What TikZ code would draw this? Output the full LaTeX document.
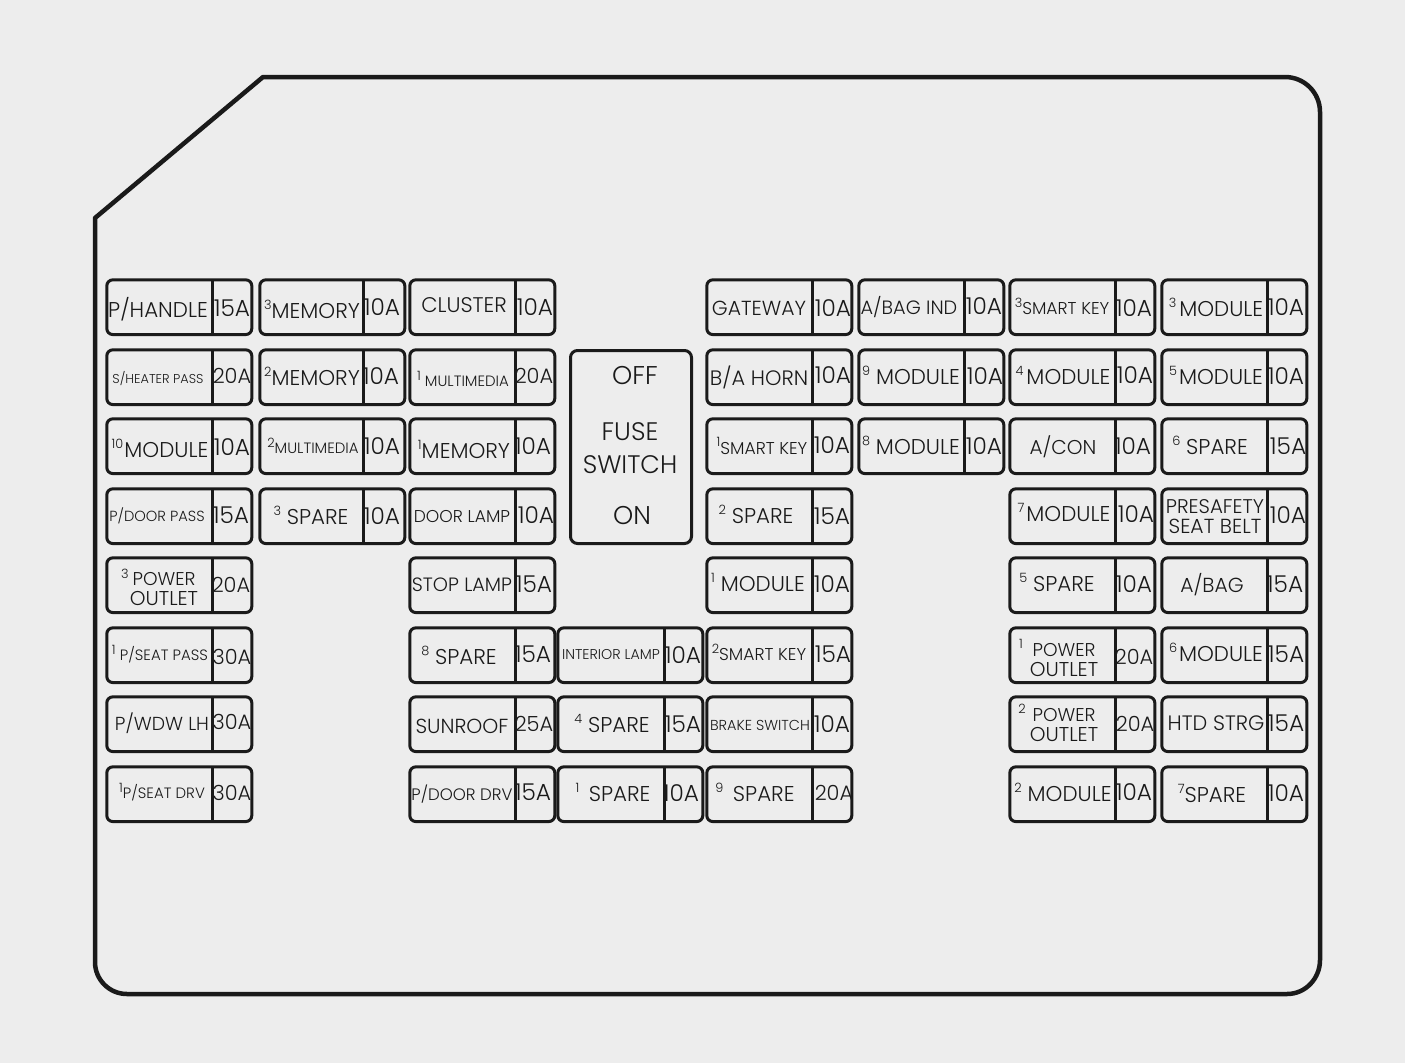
\documentclass[tikz,border=0pt]{standalone}
\usepackage{fontspec}
\setmainfont{Poppins Light}[Scale=1.07]
\definecolor{bgc}{HTML}{EDEDED}
\definecolor{ink}{HTML}{1A1A1A}
\newcommand{\fs}[1]{\fontsize{#1}{#1}\selectfont}
\newcommand{\wa}{\fs{19.5}}
\newcommand{\powfont}{\fontsize{17.3}{17}\selectfont}
\newcommand{\outfont}{\fontsize{18.7}{17}\selectfont}
\newcommand{\sx}[1]{\raisebox{.42em}{\fontsize{12}{12}\selectfont #1}}
% x y divider-x amp-x amp-y amp label-x label-y label
\newcommand{\fuse}[9]{%
  \node[fusebox] (f#1-#2) at (#1+73.3,#2+28.2) {};
  \coordinate (dt#1-#2) at (#3,#2);
  \coordinate (db#1-#2) at (#3,#2+56.5);
  \draw[partline] (dt#1-#2) -- (db#1-#2);
  \node[amptext] (a#1-#2) at (#4,#5) {#6};
  \node[labeltext] (l#1-#2) at (#7,#8) {#9};
}
\tikzset{
  fusebox/.style={draw=ink,line width=3pt,rounded corners=6pt,minimum width=145pt,minimum height=54.7pt,inner sep=0pt,outer sep=0pt},
  partline/.style={draw=ink,line width=3pt},
  amptext/.style={text=ink,inner sep=0pt,font=\fs{21.7}},
  labeltext/.style={text=ink,inner sep=0pt,font=\fs{20},align=center},
  suptext/.style={text=ink,inner sep=0pt,font=\fs{12}},
}
\begin{document}
\begin{tikzpicture}[x=1pt,y=-1pt]
\fill[bgc] (0,0) rectangle (1405,1063);
\useasboundingbox (0,0) rectangle (1405,1063);
\draw[ink,line width=4.5pt,line join=round] (95,218) -- (263,77) -- (1285,77) to[out=0,in=90] (1320,112) -- (1320,960) to[out=270,in=0] (1287,994) -- (127,994) to[out=180,in=270] (95,962) -- cycle;
% column 1
\fuse{106}{279}{212}{232}{308}{15A}{158}{309}{P/HANDLE}
\fuse{106}{349}{212}{232}{376}{\wa 20A}{158}{379}{\fs{12}S/HEATER PASS}
\fuse{106}{418}{212}{232}{447}{10A}{160}{448}{\sx{10}\hspace{1pt}MODULE}
\fuse{106}{488}{212}{231}{515}{15A}{157}{516}{\fs{13.7}P/DOOR PASS}
\fuse{106}{557}{212}{231}{585}{\wa 20A}{164}{589}{\powfont POWER\\\outfont OUTLET}
\node[suptext] (s1) at (125,574) {3};
\fuse{106}{627}{212}{232}{657}{\wa 30A}{160}{654}{\fs{14}\sx{1} P/SEAT PASS}
\fuse{106}{696}{212}{232}{722}{\wa 30A}{162}{723}{\fs{17.6}P/WDW LH}
\fuse{106}{766}{212}{232}{793}{\wa 30A}{162}{792}{\fs{14}\sx{1}P/SEAT DRV}
% column 2
\fuse{259}{279}{363}{382}{307}{10A}{312}{309}{\sx{3}MEMORY}
\fuse{259}{349}{363}{381}{376}{10A}{312}{376}{\sx{2}MEMORY}
\fuse{259}{418}{363}{382}{446}{10A}{313}{446}{\fs{14}\sx{2}MULTIMEDIA}
\fuse{259}{488}{363}{382}{516}{10A}{311}{515}{\sx{3} SPARE}
% column 3
\fuse{409}{279}{515}{535}{307}{10A}{464}{305}{\fs{19.8}CLUSTER}
\fuse{409}{349}{515}{534}{376}{\wa 20A}{463}{379}{\fs{14}\sx{1} MULTIMEDIA}
\fuse{409}{418}{515}{533}{446}{10A}{464}{449}{\sx{1}MEMORY}
\fuse{409}{488}{515}{536}{515}{10A}{462}{516}{\fs{16}DOOR LAMP}
\fuse{409}{557}{515}{534}{584}{15A}{462}{585}{\fs{18}STOP LAMP}
\fuse{409}{627}{515}{533}{654}{15A}{459}{655}{\sx{8} SPARE}
\fuse{409}{696}{515}{534}{724}{\wa 25A}{462}{726}{\fs{19}SUNROOF}
\fuse{409}{766}{515}{533}{792}{15A}{462}{794}{\fs{15.5}P/DOOR DRV}
% middle
\fuse{557}{627}{664}{683}{655}{10A}{611}{655}{\fs{13.3}INTERIOR LAMP}
\fuse{557}{696}{664}{683}{724}{15A}{612}{723}{\sx{4} SPARE}
\fuse{557}{766}{664}{681}{793}{10A}{613}{792}{\sx{1}\, SPARE}
% column 4
\fuse{706}{279}{812}{833}{308}{10A}{759}{308}{\fs{19}GATEWAY}
\fuse{706}{349}{812}{833}{375}{10A}{759}{377}{\fs{19.5}B/A HORN}
\fuse{706}{418}{812}{832}{445}{10A}{762}{446}{\fs{16}\sx{1}SMART KEY}
\fuse{706}{488}{812}{832}{516}{15A}{756}{514}{\sx{2} SPARE}
\fuse{706}{557}{812}{832}{584}{10A}{758}{582}{\sx{1} MODULE}
\fuse{706}{627}{812}{833}{654}{15A}{759}{652}{\fs{16}\sx{2}SMART KEY}
\fuse{706}{696}{812}{832}{724}{10A}{760}{725}{\fs{13.5}BRAKE SWITCH}
\fuse{706}{766}{812}{834}{793}{\wa 20A}{755}{792}{\sx{9}\, SPARE}
% column 5
\fuse{858}{279}{964}{984}{306}{10A}{909}{307}{\fs{18}A/BAG IND}
\fuse{858}{349}{964}{985}{376}{10A}{911}{375}{\sx{9} MODULE}
\fuse{858}{418}{964}{984}{446}{10A}{911}{445}{\sx{8} MODULE}
% column 6
\fuse{1009}{279}{1115}{1134}{308}{10A}{1062}{306}{\fs{16}\sx{3}SMART KEY}
\fuse{1009}{349}{1115}{1135}{375}{10A}{1063}{375}{\sx{4}\hspace{3pt}MODULE}
\fuse{1009}{418}{1115}{1133}{446}{10A}{1063}{447}{\fs{18.7}A/CON}
\fuse{1009}{488}{1115}{1136}{514}{10A}{1064}{512}{\sx{7}\hspace{2pt}MODULE}
\fuse{1009}{557}{1115}{1134}{584}{10A}{1057}{582}{\sx{5} SPARE}
\fuse{1009}{627}{1115}{1134}{657}{\wa 20A}{1064}{660}{\powfont POWER\\\outfont OUTLET}
\node[suptext] (s2) at (1021,644) {1};
\fuse{1009}{696}{1115}{1135}{724}{\wa 20A}{1064}{725}{\powfont POWER\\\outfont OUTLET}
\node[suptext] (s3) at (1022,709) {2};
\fuse{1009}{766}{1115}{1134}{792}{10A}{1063}{792}{\sx{2} MODULE}
% column 7
\fuse{1161}{279}{1267}{1286}{307}{10A}{1216}{307}{\sx{3}\hspace{3pt}MODULE}
\fuse{1161}{349}{1267}{1286}{376}{10A}{1216}{375}{\sx{5}\hspace{2pt}MODULE}
\fuse{1161}{418}{1267}{1288}{446}{15A}{1210}{445}{\sx{6} SPARE}
\fuse{1161}{488}{1267}{1288}{515}{10A}{1215}{517}{\fontsize{18.5}{17}\selectfont PRESAFETY\\\fontsize{19}{17}\selectfont SEAT BELT}
\fuse{1161}{557}{1267}{1285}{584}{15A}{1212}{585}{\fs{19}A/BAG}
\fuse{1161}{627}{1267}{1286}{654}{15A}{1216}{652}{\sx{6}\hspace{2pt}MODULE}
\fuse{1161}{696}{1267}{1286}{723}{15A}{1216}{723}{\fs{19.5}HTD STRG}
\fuse{1161}{766}{1267}{1286}{793}{10A}{1212}{793}{\sx{7}SPARE}
% fuse switch
\node[draw=ink,line width=3pt,rounded corners=7pt,minimum width=121pt,minimum height=193pt,inner sep=0pt,outer sep=0pt] (sw) at (631,447) {};
\node[labeltext,font=\fs{24}] (off) at (635,376) {OFF};
\node[labeltext,font=\fontsize{23.7}{33}\selectfont] (fs) at (630,448) {FUSE\\SWITCH};
\node[labeltext,font=\fs{24}] (on) at (632,516) {ON};
\end{tikzpicture}
\end{document}
